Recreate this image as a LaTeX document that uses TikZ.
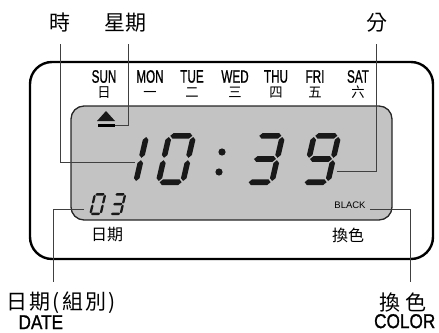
\documentclass[tikz,border=0pt]{standalone}
\usepackage{fontspec}
\setmainfont{Liberation Sans}
\newfontfamily\narrowsans[FakeBold=1.2]{Liberation Sans}
\newfontfamily\cjk{Noto Sans CJK TC}
\newfontfamily\cjkspaced[LetterSpace=10]{Noto Sans CJK TC}
\newfontfamily\cjkwide[LetterSpace=20]{Noto Sans CJK TC}
\usetikzlibrary{positioning, calc}

\definecolor{lcdgray}{RGB}{195,195,195}

% seven segment digits (local origin = bottom left, y grows downwards)
\newcommand{\lcdT}{2.8} % half thickness of a segment
\newcommand{\hseg}[3]{\fill[lcd ink] (#1,#3) -- ({#1+\lcdT},{#3-\lcdT}) -- ({#2-\lcdT},{#3-\lcdT}) -- (#2,#3) -- ({#2-\lcdT},{#3+\lcdT}) -- ({#1+\lcdT},{#3+\lcdT}) -- cycle;}
\newcommand{\vseg}[3]{\fill[lcd ink] (#1,#2) -- ({#1+\lcdT},{#2-\lcdT}) -- ({#1+\lcdT},{#3+\lcdT}) -- (#1,#3) -- ({#1-\lcdT},{#3+\lcdT}) -- ({#1-\lcdT},{#2-\lcdT}) -- cycle;}
\newcommand{\lcdsega}{\hseg{4}{26}{-49.2}}
\newcommand{\lcdsegg}{\hseg{4}{26}{-26}}
\newcommand{\lcdsegd}{\hseg{4}{26}{-2.8}}
\newcommand{\lcdsegf}{\vseg{2.8}{-27.2}{-48}}
\newcommand{\lcdsege}{\vseg{2.8}{-4}{-24.8}}
\newcommand{\lcdsegb}{\vseg{27.2}{-27.2}{-48}}
\newcommand{\lcdsegc}{\vseg{27.2}{-4}{-24.8}}
\newcommand{\lcddigit}[4]{% x, y, scale, segments
  \begin{scope}[shift={(#1,#2)}, xslant=0.23, scale=#3]
    \foreach \s in {#4} {\csname lcdseg\s\endcsname}
  \end{scope}}

\begin{document}
\begin{tikzpicture}[
        x=1pt, y=-1pt,
        frame/.style={draw=black, line width=2.4pt, rounded corners=22pt},
        lcd/.style={draw=black!85, fill=lcdgray, line width=1.3pt, rounded corners=13pt},
        lcd ink/.style={fill=black!90},
        leader/.style={draw=black!75, line width=0.8pt},
        callout/.style={font=\cjk\fontsize{21}{23}\selectfont, inner sep=1pt},
        callout en/.style={font=\narrowsans\fontsize{20}{22}\selectfont, xscale=0.86, inner sep=0pt},
        day en/.style={font=\narrowsans\fontsize{18}{20}\selectfont, xscale=0.65, inner sep=1pt},
        day zh/.style={font=\cjk\fontsize{14}{16}\selectfont, xscale=0.95, inner sep=0.5pt, text height=11.8pt, text depth=0.5pt},
        key/.style={font=\cjk\fontsize{16}{18}\selectfont, inner sep=1pt},
        node distance=1pt
    ]
    \useasboundingbox (0,0) rectangle (439,332);

    % Clock body and display
    \draw[frame] (30,62) rectangle (433,259);
    \draw[lcd] (71,106) rectangle (392,220);

    % Weekday row
    \foreach \en/\zh/\x [count=\i] in {SUN/日/104, MON/一/150, TUE/二/192, WED/三/235, THU/四/276, FRI/五/315, SAT/六/358} {
        \node[day en] (day_\i) at (\x,76.5) {\en};
        \node[day zh, below=of day_\i] (day_zh_\i) {\zh};
    }

    % Weekday marker
    \fill[lcd ink] (97,121) -- (106,111) -- (115,121) -- cycle;
    \draw[black, line width=2.6pt] (98,125.5) -- (115,125.5) coordinate (week_bar);

    % Time 10:39
    \lcddigit{108}{185}{1}{b,c}
    \lcddigit{155}{185}{1}{a,b,c,d,e,f}
    \fill[lcd ink] (222,152) circle (3.6) (219,172) circle (3.6);
    \lcddigit{244}{185}{1}{a,b,c,d,g}
    \lcddigit{300}{185}{1}{a,b,c,d,f,g}

    % Date 03
    \lcddigit{89}{215}{0.42}{a,b,c,d,e,f}
    \lcddigit{109}{215}{0.42}{a,b,c,d,g}

    \node[font=\fontsize{9.5}{10}\selectfont, inner sep=1pt] (color_mode) at (350,205) {BLACK};

    % Keys
    \node[key] (date_key) at (107,235) {日期};
    \node[key] (color_key) at (348,235) {換色};

    % Callouts
    \node[callout] (hour_label) at (60,22.5) {時};
    \node[callout] (week_label) at (125,22.5) {星期};
    \node[callout] (min_label) at (377,22.5) {分};
    \node[callout, font=\cjkspaced\fontsize{21}{23}\selectfont] (date_label) at (61,303) {日期(組別)};
    \node[callout en, below=0pt of date_label.south west, anchor=north west, xshift=15pt] (date_en) {DATE};
    \node[callout, font=\cjkwide\fontsize{21}{23}\selectfont] (color_label) at (403,303) {換色};
    \node[callout en, below=0pt of color_label, xshift=2pt] (color_en) {COLOR};

    \coordinate (hour_tip) at (135,162);
    \coordinate (min_tip) at (337,171);
    \coordinate (date_tip) at (84,209);
    \coordinate (date_end) at (53,282);
    \coordinate (color_end) at (410,282);

    % Leader lines
    \draw[leader] ([yshift=-11pt]hour_label.south) |- (hour_tip);
    \draw[leader] ([xshift=3pt, yshift=-11pt]week_label.south) |- (week_bar);
    \draw[leader] ([xshift=-1pt, yshift=-11pt]min_label.south) |- (min_tip);
    \draw[leader] (date_tip) -| (date_end);
    \draw[leader] ([xshift=3pt]color_mode.south east) -| (color_end);

\end{tikzpicture}
\end{document}
